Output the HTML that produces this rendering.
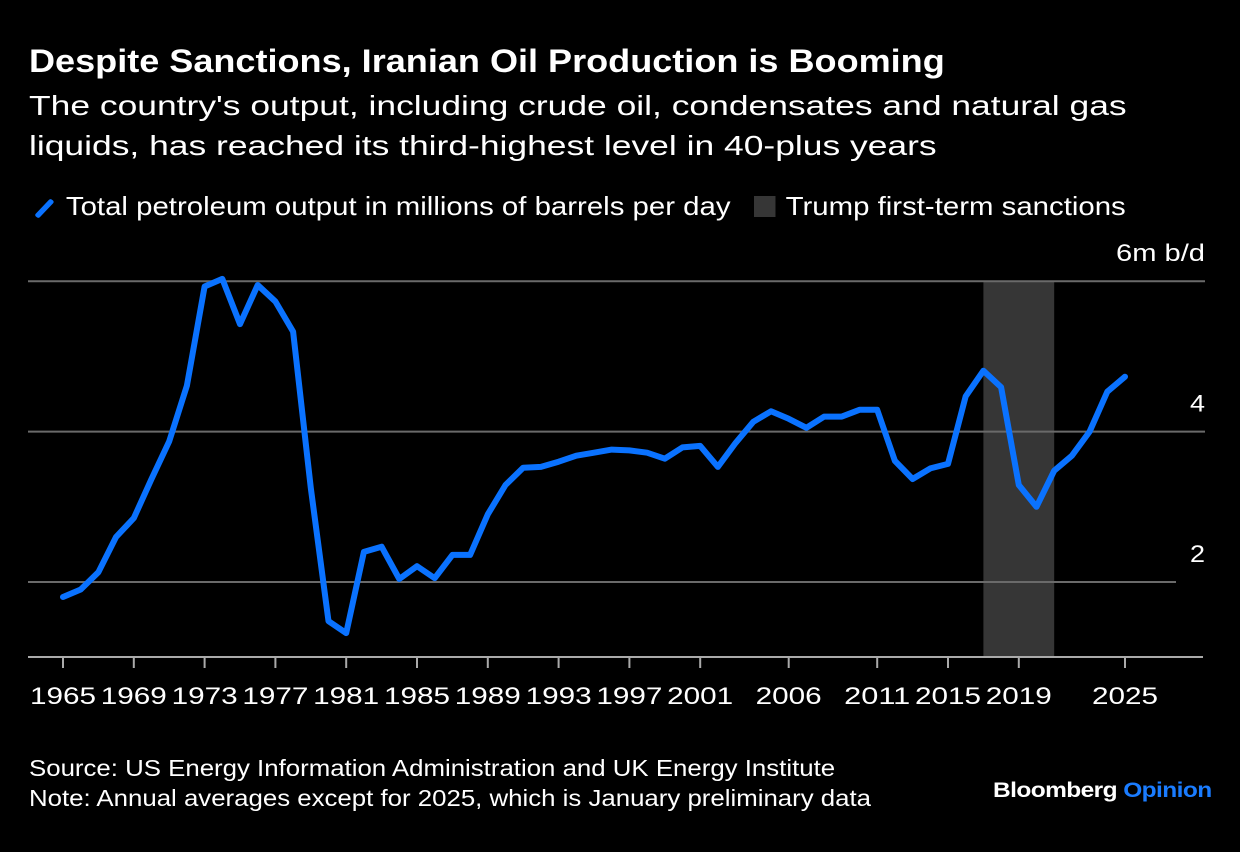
<!DOCTYPE html>
<html><head><meta charset="utf-8">
<style>
body{margin:0;background:#000;width:1240px;height:852px;overflow:hidden;font-family:"Liberation Sans",Arial,sans-serif;color:#fff;position:relative}
.t{position:absolute;white-space:nowrap;transform-origin:0 0}
</style></head><body>
<div class="t" style="left:29px;top:43px;font-size:32px;font-weight:bold;transform:scaleX(1.127)">Despite Sanctions, Iranian Oil Production is Booming</div>
<div class="t" style="left:29px;top:86px;font-size:28px;line-height:40px;transform:scaleX(1.265)">The country's output, including crude oil, condensates and natural gas<br>liquids, has reached its third-highest level in 40-plus years</div>
<div class="t" style="left:32px;top:191px;font-size:26px;transform:scaleX(1.13)"><span style="display:inline-block;width:22px;height:5px;background:#0a72ff;transform:rotate(-50deg);vertical-align:middle;margin-right:8px;border-radius:2px"></span>Total petroleum output in millions of barrels per day</div>
<div class="t" style="left:754px;top:191px;font-size:26px;transform:scaleX(1.13)"><span style="display:inline-block;width:19px;height:21px;background:#363636;vertical-align:-2px;margin-right:9px"></span>Trump first-term sanctions</div>
<svg id="chart" width="1240" height="852" style="position:absolute;left:0;top:0"></svg>
<div class="t" style="left:29px;top:753px;font-size:23px;line-height:30px;transform:scaleX(1.122)">Source: US Energy Information Administration and UK Energy Institute<br>Note: Annual averages except for 2025, which is January preliminary data</div>
<div class="t" style="left:993px;top:779px;font-size:21px;font-weight:bold;letter-spacing:-0.5px;transform:scaleX(1.166)">Bloomberg <span style="color:#1a7cff">Opinion</span></div>
<script>
const years=[];for(let y=1965;y<=2025;y++)years.push(y);
const output=[1.8,1.9,2.13,2.6,2.85,3.37,3.87,4.61,5.93,6.03,5.43,5.95,5.73,5.33,3.25,1.48,1.32,2.4,2.47,2.04,2.21,2.05,2.36,2.36,2.9,3.29,3.52,3.53,3.6,3.68,3.72,3.76,3.75,3.72,3.64,3.79,3.81,3.53,3.85,4.13,4.27,4.17,4.05,4.2,4.2,4.29,4.29,3.61,3.37,3.51,3.57,4.47,4.81,4.59,3.29,3.0,3.48,3.68,4.0,4.53,4.73];
const tickYears=[1965,1969,1973,1977,1981,1985,1989,1993,1997,2001,2006,2011,2015,2019,2025];
const yTicks=[2,4,6];
const sanctions=[2017,2021];
const NS='http://www.w3.org/2000/svg';
const svg=document.getElementById('chart');
const X=y=>63+(y-1965)*(1125-63)/60;
const Y=v=>582-(v-2)*75.2;
function el(tag,a){const e=document.createElementNS(NS,tag);for(const k in a)e.setAttribute(k,a[k]);svg.appendChild(e);return e;}
const band=el('rect',{x:X(sanctions[0]),y:Y(6),width:X(sanctions[1])-X(sanctions[0]),height:657-Y(6),fill:'#363636'});


yTicks.forEach(v=>{
  const g=el('line',{x1:28,x2:v==2?1176:1205,y1:Y(v),y2:Y(v),stroke:'#6a6a6a','stroke-width':2});
  
  
  const lab=v==6?'6m b/d':String(v);
  const t=el('text',{x:1205,y:Y(v)-20,'text-anchor':'end',fill:'#fff','font-size':24,'font-family':'Liberation Sans, Arial, sans-serif',textLength:v==6?89:15,lengthAdjust:'spacingAndGlyphs'});
  t.textContent=lab;
  
  
});
const ax=el('line',{x1:28,x2:1203,y1:657,y2:657,stroke:'#aaa','stroke-width':2});


tickYears.forEach(yr=>{
  const tk=el('line',{x1:X(yr),x2:X(yr),y1:657,y2:668,stroke:'#aaa','stroke-width':2});
  
  
  const t=el('text',{x:X(yr),y:704,'text-anchor':'middle',fill:'#fff','font-size':24,'font-family':'Liberation Sans, Arial, sans-serif',textLength:66,lengthAdjust:'spacingAndGlyphs'});
  t.textContent=yr;
  
  
});
const pts=years.map((yr,i)=>X(yr).toFixed(1)+','+Y(output[i]).toFixed(1)).join(' ');
const line=el('polyline',{points:pts,fill:'none',stroke:'#0a72ff','stroke-width':6,'stroke-linejoin':'round','stroke-linecap':'round'});


</script>
</body></html>
